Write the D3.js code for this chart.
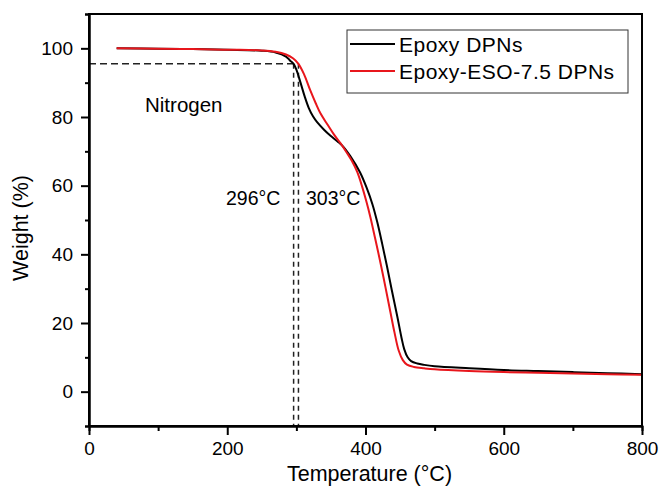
<!DOCTYPE html>
<html>
<head>
<meta charset="utf-8">
<script src="https://cdn.jsdelivr.net/npm/d3@7"></script>
<style>
  body { margin: 0; background: #fff; }
  text { font-family: "Liberation Sans", Arial, sans-serif; fill: #000; }
</style>
</head>
<body>
<script>
// Epoxy DPNs (black)
const tempA = [40, 100, 150, 200, 250, 270, 285, 291, 296, 300, 306, 312, 318, 324, 330, 340, 349, 360, 368, 378, 392, 402, 410, 417, 424, 431, 438, 446, 452, 456, 461, 466, 475, 485, 500, 550, 600, 650, 700, 750, 800];
const weightA = [100, 99.9, 99.8, 99.6, 99.3, 98.8, 97.6, 96.4, 95.5, 93.8, 90.0, 86.0, 82.6, 80.2, 78.5, 76.3, 74.6, 72.8, 71.3, 68.6, 63.9, 59.2, 54.6, 49.4, 43.2, 36.6, 29.6, 21.9, 15.8, 12.4, 10.0, 8.9, 8.2, 7.8, 7.4, 6.8, 6.3, 6.0, 5.7, 5.4, 5.1];
// Epoxy-ESO-7.5 DPNs (red)
const tempB = [40, 100, 150, 200, 250, 270, 285, 295, 303, 311, 320, 328, 335, 345, 354, 364, 373, 380, 388, 395, 401, 407, 414, 422, 429, 436, 442, 448, 454, 460, 470, 485, 500, 550, 600, 650, 700, 750, 800];
const weightB = [100, 99.9, 99.8, 99.6, 99.4, 99.0, 98.2, 97.1, 95.5, 92.5, 87.8, 84.0, 81.0, 77.8, 75.0, 72.3, 69.6, 67.3, 64.0, 59.8, 55.6, 50.9, 44.6, 37.2, 30.3, 23.2, 17.2, 12.0, 9.2, 7.9, 7.2, 6.8, 6.5, 6.0, 5.7, 5.5, 5.3, 5.1, 4.9];

const seriesNames = ['Epoxy DPNs', 'Epoxy-ESO-7.5 DPNs'];
const seriesColors = ['#000000', '#e8161c'];
const xTicks = [0, 200, 400, 600, 800];
const xMinor = [100, 300, 500, 700];
const yTicks = [0, 20, 40, 60, 80, 100];
const yMinor = [-10, 10, 30, 50, 70, 90, 110];
const onsetTemps = [296, 303];
const onsetWeight = 95.5;

const W = 663, H = 487;
const margin = {top: 14, right: 21, bottom: 61, left: 89};
const innerW = W - margin.left - margin.right;
const innerH = H - margin.top - margin.bottom;

const svg = d3.select('body').append('svg').attr('width', W).attr('height', H);
const g = svg.append('g').attr('transform', `translate(${margin.left},${margin.top})`);

const x = d3.scaleLinear().domain([0, 800]).range([0, innerW]);
const y = d3.scaleLinear().domain([-10, 110]).range([innerH, 0]);

// dashed onset guides
g.append('line')
  .attr('x1', x(0)).attr('x2', x(onsetTemps[1]))
  .attr('y1', y(onsetWeight)).attr('y2', y(onsetWeight))
  .attr('stroke', '#222').attr('stroke-width', 1.5).attr('stroke-dasharray', '7,4');
g.selectAll('.vguide').data(onsetTemps).enter().append('line')
  .attr('x1', d => x(d)).attr('x2', d => x(d))
  .attr('y1', y(onsetWeight)).attr('y2', y(-10))
  .attr('stroke', '#222').attr('stroke-width', 1.5).attr('stroke-dasharray', '5,4');

// curves
const line = d3.line().x(d => x(d[0])).y(d => y(d[1])).curve(d3.curveCatmullRom.alpha(0.5));
const series = [d3.zip(tempA, weightA), d3.zip(tempB, weightB)];
g.selectAll('.curve').data(series).enter().append('path')
  .attr('d', line)
  .attr('fill', 'none')
  .attr('stroke', (d, i) => seriesColors[i])
  .attr('stroke-width', 2)
  .attr('stroke-linejoin', 'round');

// axes
g.append('g').attr('transform', `translate(0,${innerH})`)
  .call(d3.axisBottom(x).tickValues(xTicks).tickSize(9).tickSizeOuter(0).tickPadding(7));
g.append('g').attr('transform', `translate(0,${innerH})`)
  .call(d3.axisBottom(x).tickValues(xMinor).tickSize(5).tickFormat(''));
g.append('g')
  .call(d3.axisLeft(y).tickValues(yTicks).tickSize(8).tickSizeOuter(0).tickPadding(8));
g.append('g')
  .call(d3.axisLeft(y).tickValues(yMinor).tickSize(4).tickFormat(''));
g.selectAll('.domain').attr('stroke', '#000').attr('stroke-width', 2);
g.selectAll('.tick line').attr('stroke', '#000').attr('stroke-width', 2);
g.selectAll('.tick text').style('font-size', '19px').style('font-family', '"Liberation Sans", Arial, sans-serif');

// frame top/right
g.append('rect').attr('x', 0).attr('y', 0).attr('width', innerW).attr('height', innerH)
  .attr('fill', 'none').attr('stroke', '#000').attr('stroke-width', 2);

// axis titles
svg.append('text').text('Temperature (°C)')
  .attr('x', margin.left + innerW / 2 + 4).attr('y', 481)
  .attr('text-anchor', 'middle').style('font-size', '21.5px');
svg.append('text').text('Weight (%)')
  .attr('transform', 'translate(28,228) rotate(-90)')
  .attr('text-anchor', 'middle').style('font-size', '21.5px');

// annotations
g.append('text').text('Nitrogen').attr('x', 145 - margin.left).attr('y', 112 - margin.top)
  .style('font-size', '20.5px');
g.append('text').text('296°C').attr('x', 226 - margin.left).attr('y', 205 - margin.top)
  .style('font-size', '19.5px');
g.append('text').text('303°C').attr('x', 306 - margin.left).attr('y', 205 - margin.top)
  .style('font-size', '19.5px');

// legend
const lg = svg.append('g').attr('transform', 'translate(347,30)');
lg.append('rect').attr('width', 281).attr('height', 63)
  .attr('fill', '#fff').attr('stroke', '#333').attr('stroke-width', 1);
seriesNames.forEach((name, i) => {
  const ly = 14 + i * 27;
  lg.append('line').attr('x1', 3).attr('x2', 48).attr('y1', ly).attr('y2', ly)
    .attr('stroke', seriesColors[i]).attr('stroke-width', 2);
  lg.append('text').text(name).attr('x', 52).attr('y', ly + 7.5)
    .style('font-size', '21px').style('letter-spacing', '0.5px');
});
</script>
</body>
</html>
